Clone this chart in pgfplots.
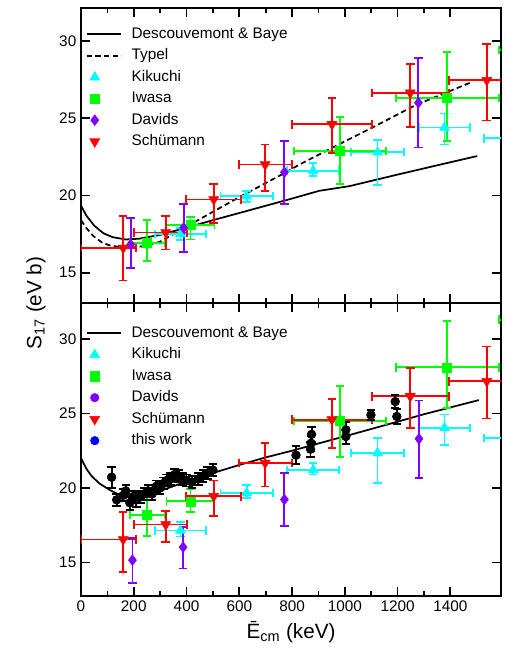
\documentclass[border=0pt]{standalone}
\usepackage{fontspec}
\setmainfont{Liberation Sans}
\usepackage{pgfplots}
\pgfplotsset{compat=1.18}
\definecolor{kcyan}{RGB}{0,255,255}
\definecolor{igreen}{RGB}{0,255,0}
\definecolor{dpurple}{RGB}{128,0,255}
\definecolor{sred}{RGB}{255,0,0}
\definecolor{tblue}{RGB}{0,0,255}

\pgfplotsset{
  panel/.style={scale only axis, width=315pt, xmin=0, xmax=1592,
    xtick={0,200,...,1400}, minor x tick num=1, ytick={15,20,25,30},
    tick align=inside, major tick length=6.75pt, minor tick length=3.75pt,
    axis line style={line width=1.5pt}, tick style={line width=1.3pt, black},
    tick label style={font=\fontsize{11.5}{13}\selectfont},
    /pgf/number format/assume math mode=true, /pgf/number format/1000 sep={},
    legend cell align=left,
    legend style={draw=none, fill=none, inner sep=0pt, anchor=north west,
      font=\fontsize{11.5}{13}\selectfont,
      nodes={inner sep=1pt, text height=8.3pt, text depth=2.2pt}, row sep=3.6pt}},
  lineleg/.style={legend image code/.code={\draw[##1] (0pt,0pt) -- (26pt,0pt); \path (32pt,0pt);}},
  markleg/.style={legend image code/.code={\draw[##1] plot coordinates {(6pt,0pt)}; \path (0pt,0pt) (32pt,0pt);}},
  ebars/.style={error bars/.cd, x dir=both, x explicit, y dir=both, y explicit,
    error bar style={line width=1.4pt, color=#1},
    error mark options={rotate=90, mark size=3.2pt, line width=1.4pt, color=#1}},
  ybars/.style={error bars/.cd, y dir=both, y explicit,
    error bar style={line width=1.4pt, color=#1},
    error mark options={rotate=90, mark size=3.2pt, line width=1.4pt, color=#1}},
}

\pgfplotstableread{
x y
0 19.35
20 18.7
50 18.05
85 17.55
120 17.3
170 17.15
220 17.2
300 17.45
387 17.85
500 18.4
640 19.05
800 19.8
903 20.3
1017 20.6
1200 21.35
1350 21.95
1502 22.55
}\dbtop
\pgfplotstableread{
x y
0 18.4
20 17.9
47 17.37
80 16.95
110 16.76
173 16.6
230 16.7
299 17.0
387 17.86
500 18.94
601 19.9
777 21.5
828 22.0
1000 23.5
1105 24.4
1269 25.85
1483 27.35
}\typel
\pgfplotstableread{
x y xm xp ym yp
377 17.5 97 98 0.4 0.4
628 19.95 99 99 0.35 0.35
880 21.6 98 98 0.35 0.5
1124 22.8 101 101 2.15 0.8
1378 24.4 97 98 1.1 0.9
1627 23.7 100 100 0.5 0.5
}\kiktop
\pgfplotstableread{
x y xm xp ym yp
251 16.93 66 66 1.18 1.47
415 18.08 91 91 0.93 0.52
982 22.87 173 173 2.12 2.23
1388 26.3 195 195 2.8 3.0
1790 29.4 205 205 0.3 0.3
}\iwatop
\pgfplotstableread{
x y ym yp
188 16.83 1.55 1.72
389 17.9 1.55 1.56
771 21.5 2.04 2.0
1279 26.0 2.9 2.9
}\davtop
\pgfplotstableread{
x y xm xp ym yp
160 16.6 160 50 2.1 2.05
321 17.6 121 80 1.1 1.05
503 19.74 105 105 1.55 1.0
698 22.0 98 103 1.7 1.3
951 24.6 151 151 1.85 1.7
1248 26.64 146 147 2.2 1.85
1538 27.45 143 143 2.6 2.35
}\schtop

\pgfplotstableread{
x y
0 22.0
20 21.3
40 20.8
70 20.3
110 19.85
150 19.5
200 19.35
250 19.45
300 19.8
387 20.35
500 21.0
601 21.55
700 22.05
800 22.5
903 23.0
1017 23.55
1200 24.45
1300 24.95
1508 25.9
}\dbbot
\pgfplotstableread{
x y xm xp ym yp
377 17.14 97 98 0.4 0.6
628 19.66 99 99 0.33 0.52
880 21.2 98 98 0.3 0.5
1124 22.35 101 101 2.0 1.0
1378 24.03 97 98 1.13 0.9
1627 23.36 100 100 0.5 0.5
}\kikbot
\pgfplotstableread{
x y xm xp ym yp
251 18.17 66 66 1.41 1.39
415 19.1 91 91 0.73 0.8
982 24.48 173 173 2.38 2.35
1388 28.1 195 195 2.73 3.13
1790 31.3 205 205 0.3 0.3
}\iwabot
\pgfplotstableread{
x y ym yp
195 15.15 1.55 1.49
387 16.02 1.43 1.34
771 19.22 1.79 1.78
1281 23.3 2.63 2.57
}\davbot
\pgfplotstableread{
x y xm xp ym yp
160 16.54 160 50 2.2 1.83
321 17.54 121 80 1.16 0.94
503 19.44 105 105 1.34 1.06
698 21.68 98 103 1.58 1.32
951 24.59 151 151 1.91 1.41
1248 26.15 146 147 2.15 1.9
1538 27.16 143 143 2.5 2.34
}\schbot
\pgfplotstableread{
x y e
116 20.72 0.7
135 19.2 0.4
160 19.5 0.4
170 19.8 0.4
185 19.0 0.5
195 19.4 0.4
210 19.2 0.5
225 19.4 0.4
240 19.6 0.4
255 19.8 0.4
270 19.6 0.4
285 20.1 0.4
300 20.0 0.4
312 20.3 0.4
325 20.5 0.4
340 20.6 0.4
355 20.9 0.4
370 20.8 0.4
385 20.6 0.4
400 20.5 0.4
420 20.4 0.4
445 20.6 0.4
462 20.8 0.4
480 21.0 0.4
500 21.2 0.4
815 22.2 0.6
870 22.6 0.5
872 23.0 0.5
874 23.6 0.5
1004 23.45 0.5
1004 23.9 0.5
1099 24.9 0.35
1191 25.8 0.45
1197 24.8 0.5
}\thiswork

\begin{document}
\begin{tikzpicture}
\begin{axis}[panel, name=top, at={(0pt,0pt)}, anchor=south west, height=221.25pt,
  ymin=13.04, ymax=32.13, xticklabels={}, legend style={at={(0.011,0.94)}}]
\addlegendimage{lineleg, black, line width=1.3pt}
\addlegendentry{Descouvemont \& Baye}
\addlegendimage{lineleg, black, line width=1.3pt, dash pattern=on 4pt off 2.5pt}
\addlegendentry{Typel}
\addlegendimage{markleg, only marks, mark=triangle*, mark size=4.3pt, kcyan}
\addlegendentry{Kikuchi}
\addlegendimage{markleg, only marks, mark=square*, mark size=3.4pt, igreen}
\addlegendentry{Iwasa}
\addlegendimage{markleg, only marks, mark=diamond*, mark size=4pt, dpurple}
\addlegendentry{Davids}
\addlegendimage{markleg, only marks, mark=triangle*, mark size=4.3pt, mark options={rotate=180}, sred}
\addlegendentry{Schümann}

\addplot[forget plot, black, line width=1.3pt] table[x=x,y=y] {\dbtop};
\addplot[forget plot, black, line width=1.3pt, dash pattern=on 4pt off 2.5pt] table[x=x,y=y] {\typel};
\addplot[forget plot, only marks, mark=triangle*, mark size=4.3pt, color=kcyan, ebars=kcyan]
  table[x=x, y=y, x error minus=xm, x error plus=xp, y error minus=ym, y error plus=yp] {\kiktop};
\addplot[forget plot, only marks, mark=square*, mark size=3.4pt, color=igreen, ebars=igreen]
  table[x=x, y=y, x error minus=xm, x error plus=xp, y error minus=ym, y error plus=yp] {\iwatop};
\addplot[forget plot, only marks, mark=diamond*, mark size=4pt, color=dpurple, ybars=dpurple]
  table[x=x, y=y, y error minus=ym, y error plus=yp] {\davtop};
\addplot[forget plot, only marks, mark=triangle*, mark size=4.3pt, mark options={rotate=180}, color=sred, ebars=sred]
  table[x=x, y=y, x error minus=xm, x error plus=xp, y error minus=ym, y error plus=yp] {\schtop};
\end{axis}

\begin{axis}[panel, at={(top.south west)}, anchor=north west, height=220pt,
  ymin=12.72, ymax=32.42,
  xlabel={Ē\textsubscript{cm} (keV)}, xlabel style={font=\fontsize{15.5}{18}\selectfont},
  legend style={at={(0.011,0.926)}}]
\addlegendimage{lineleg, black, line width=1.3pt}
\addlegendentry{Descouvemont \& Baye}
\addlegendimage{markleg, only marks, mark=triangle*, mark size=4.3pt, kcyan}
\addlegendentry{Kikuchi}
\addlegendimage{markleg, only marks, mark=square*, mark size=3.4pt, igreen}
\addlegendentry{Iwasa}
\addlegendimage{markleg, only marks, mark=*, mark size=3.2pt, dpurple}
\addlegendentry{Davids}
\addlegendimage{markleg, only marks, mark=triangle*, mark size=4.3pt, mark options={rotate=180}, sred}
\addlegendentry{Schümann}
\addlegendimage{markleg, only marks, mark=*, mark size=3.2pt, tblue}
\addlegendentry{this work}

\addplot[forget plot, black, line width=1.3pt] table[x=x,y=y] {\dbbot};
\addplot[forget plot, only marks, mark=triangle*, mark size=4.3pt, color=kcyan, ebars=kcyan]
  table[x=x, y=y, x error minus=xm, x error plus=xp, y error minus=ym, y error plus=yp] {\kikbot};
\addplot[forget plot, only marks, mark=square*, mark size=3.4pt, color=igreen, ebars=igreen]
  table[x=x, y=y, x error minus=xm, x error plus=xp, y error minus=ym, y error plus=yp] {\iwabot};
\addplot[forget plot, only marks, mark=diamond*, mark size=4pt, color=dpurple, ybars=dpurple]
  table[x=x, y=y, y error minus=ym, y error plus=yp] {\davbot};
\addplot[forget plot, only marks, mark=triangle*, mark size=4.3pt, mark options={rotate=180}, color=sred, ebars=sred]
  table[x=x, y=y, x error minus=xm, x error plus=xp, y error minus=ym, y error plus=yp] {\schbot};
\addplot[forget plot, only marks, mark=*, mark size=3.3pt, color=black, ybars=black]
  table[x=x, y=y, y error=e] {\thiswork};
\end{axis}

\node[rotate=90, font=\fontsize{15.5}{18}\selectfont] at (-33.75pt,0pt) {S\textsubscript{17} (eV b)};

\pgfresetboundingbox
\path (-60.75pt,-265.5pt) rectangle (318.75pt,227.25pt);
\end{tikzpicture}
\end{document}
